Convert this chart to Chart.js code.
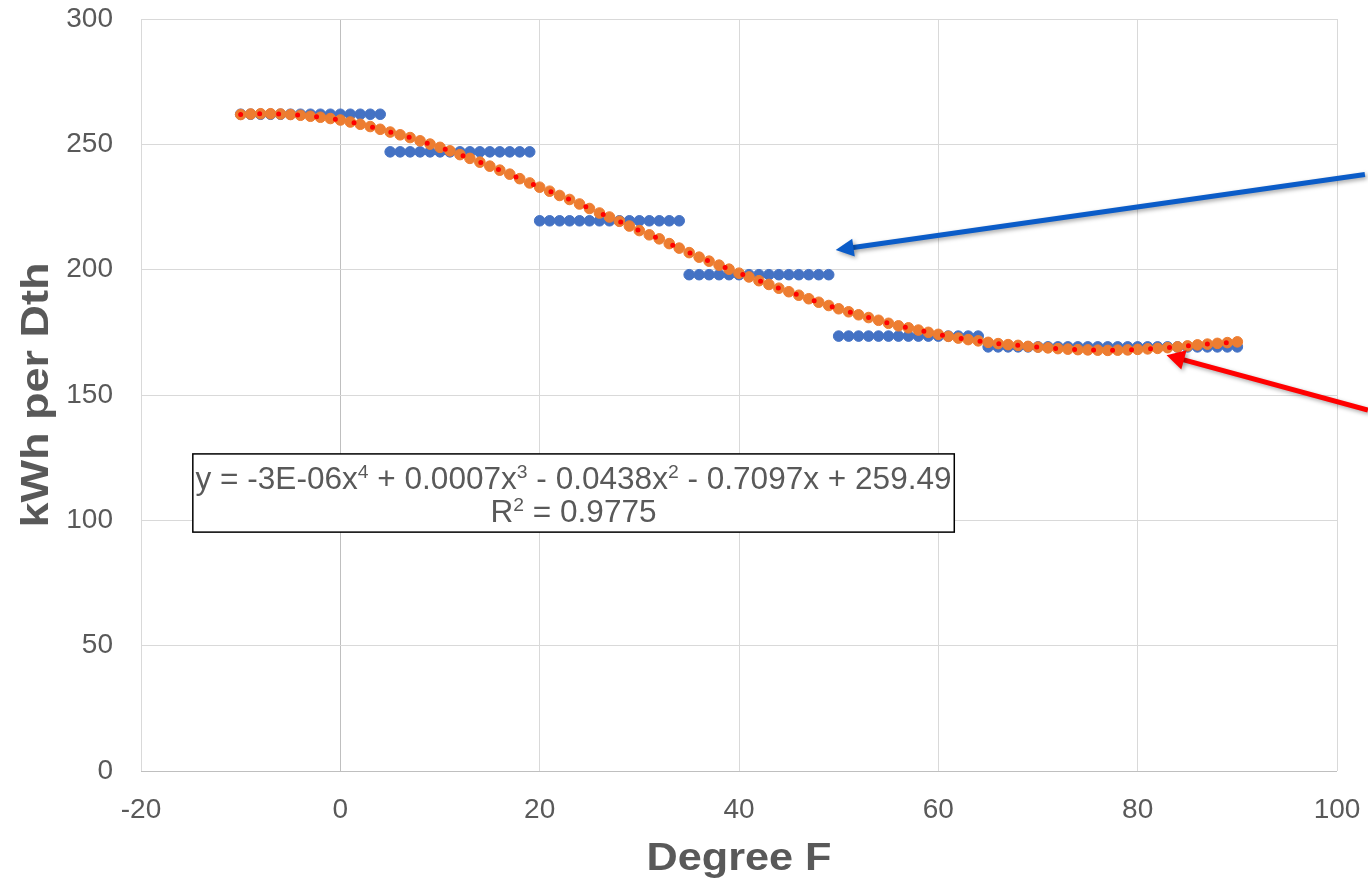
<!DOCTYPE html>
<html>
<head>
<meta charset="utf-8">
<script src="https://cdn.jsdelivr.net/npm/chart.js@4.4.1/dist/chart.umd.min.js"></script>
<style>
  html, body { margin: 0; padding: 0; background: #fff; }
  #wrap { width: 1368px; height: 884px; }
</style>
</head>
<body>
<div id="wrap"><canvas id="chart" width="1368" height="884"></canvas></div>
<script>
// temperatures (Degree F)
const temps = [-10, -9, -8, -7, -6, -5, -4, -3, -2, -1, 0, 1, 2, 3, 4, 5, 6, 7, 8, 9,
  10, 11, 12, 13, 14, 15, 16, 17, 18, 19, 20, 21, 22, 23, 24, 25, 26, 27, 28, 29,
  30, 31, 32, 33, 34, 35, 36, 37, 38, 39, 40, 41, 42, 43, 44, 45, 46, 47, 48, 49,
  50, 51, 52, 53, 54, 55, 56, 57, 58, 59, 60, 61, 62, 63, 64, 65, 66, 67, 68, 69,
  70, 71, 72, 73, 74, 75, 76, 77, 78, 79, 80, 81, 82, 83, 84, 85, 86, 87, 88, 89, 90];

// measured kWh per Dth (step table)
const stepValues = [262, 262, 262, 262, 262, 262, 262, 262, 262, 262, 262, 262, 262, 262, 262,
  247, 247, 247, 247, 247, 247, 247, 247, 247, 247, 247, 247, 247, 247, 247,
  219.5, 219.5, 219.5, 219.5, 219.5, 219.5, 219.5, 219.5, 219.5, 219.5, 219.5, 219.5, 219.5, 219.5, 219.5,
  198, 198, 198, 198, 198, 198, 198, 198, 198, 198, 198, 198, 198, 198, 198,
  173.5, 173.5, 173.5, 173.5, 173.5, 173.5, 173.5, 173.5, 173.5, 173.5, 173.5, 173.5, 173.5, 173.5, 173.5,
  169.2, 169.2, 169.2, 169.2, 169.2, 169.2, 169.2, 169.2, 169.2, 169.2, 169.2, 169.2, 169.2,
  169.2, 169.2, 169.2, 169.2, 169.2, 169.2, 169.2, 169.2, 169.2, 169.2, 169.2, 169.2, 169.2];

// fitted values
const fitValues = [261.9, 262.1, 262.2, 262.2, 262.1, 261.9, 261.6, 261.2, 260.8, 260.3,
  259.7, 258.9, 258.0, 257.1, 256.0, 254.9, 253.8, 252.7, 251.4, 250.1,
  248.8, 247.4, 245.9, 244.4, 242.9, 241.3, 239.7, 238.1, 236.3, 234.6,
  232.9, 231.3, 229.6, 228.0, 226.2, 224.4, 222.6, 221.0, 219.3, 217.4,
  215.6, 213.9, 212.3, 210.4, 208.6, 206.8, 205.0, 203.4, 201.8, 200.2,
  198.6, 197.1, 195.6, 194.1, 192.6, 191.2, 189.8, 188.4, 187.0, 185.7,
  184.4, 183.2, 182.0, 180.9, 179.8, 178.6, 177.6, 176.8, 175.9, 175.0,
  174.2, 173.4, 172.7, 172.1, 171.6, 171.0, 170.5, 170.1, 169.8, 169.4,
  169.1, 168.8, 168.5, 168.3, 168.1, 168.0, 167.9, 167.8, 167.9, 168.0,
  168.2, 168.4, 168.6, 168.9, 169.2, 169.6, 170.0, 170.3, 170.6, 170.9, 171.2];

const xTicks = [-20, 0, 20, 40, 60, 80, 100];
const yTicks = [0, 50, 100, 150, 200, 250, 300];

const equationText = [['y = -3E-06x', false], ['4', true], [' + 0.0007x', false], ['3', true],
  [' - 0.0438x', false], ['2', true], [' - 0.7097x + 259.49', false]];
const rSquaredText = [['R', false], ['2', true], [' = 0.9775', false]];

// annotation arrows, in data units: [fromX, fromY, toX, toY]
const blueArrow = [102.8, 238.0, 49.7, 207.8];
const redArrow = [103.1, 144.0, 82.9, 165.9];

const FONT = '"Liberation Sans", Arial, sans-serif';
const GREY = '#595959';

function pairs(ys) {
  return temps.map((t, i) => ({x: t, y: ys[i]}));
}

function drawRuns(ctx, runs, cx, baseline, size, sx) {
  const supSize = Math.round(size * 0.6);
  let w = 0;
  runs.forEach(([txt, sup]) => {
    ctx.font = (sup ? supSize : size) + 'px ' + FONT;
    w += ctx.measureText(txt).width;
  });
  ctx.save();
  ctx.translate(cx - (w * sx) / 2, baseline);
  ctx.scale(sx, 1);
  let px = 0;
  ctx.textBaseline = 'alphabetic';
  ctx.textAlign = 'left';
  runs.forEach(([txt, sup]) => {
    ctx.font = (sup ? supSize : size) + 'px ' + FONT;
    ctx.fillText(txt, px, sup ? -size * 0.36 : 0);
    px += ctx.measureText(txt).width;
  });
  ctx.restore();
  return w;
}

function drawArrow(ctx, x, y, a, color, width, headLen, headHalf) {
  const x1 = x.getPixelForValue(a[0]), y1 = y.getPixelForValue(a[1]);
  const x2 = x.getPixelForValue(a[2]), y2 = y.getPixelForValue(a[3]);
  const ang = Math.atan2(y2 - y1, x2 - x1);
  const bx = x2 - headLen * Math.cos(ang), by = y2 - headLen * Math.sin(ang);
  ctx.save();
  ctx.shadowColor = 'rgba(0,0,0,0.35)';
  ctx.shadowBlur = 4;
  ctx.shadowOffsetX = 2;
  ctx.shadowOffsetY = 2;
  ctx.strokeStyle = color;
  ctx.fillStyle = color;
  ctx.lineWidth = width;
  ctx.beginPath();
  ctx.moveTo(x1, y1);
  ctx.lineTo(bx + 2 * Math.cos(ang), by + 2 * Math.sin(ang));
  ctx.stroke();
  ctx.beginPath();
  ctx.moveTo(x2, y2);
  ctx.lineTo(bx + headHalf * Math.sin(ang), by - headHalf * Math.cos(ang));
  ctx.lineTo(bx - headHalf * Math.sin(ang), by + headHalf * Math.cos(ang));
  ctx.closePath();
  ctx.fill();
  ctx.restore();
}

const overlay = {
  id: 'overlay',
  afterDatasetsDraw(chart) {
    const {ctx, scales: {x, y}} = chart;
    // trendline label box
    const l = x.getPixelForValue(-14.8), r = x.getPixelForValue(61.6);
    const t = y.getPixelForValue(126.5), b = y.getPixelForValue(95.3);
    ctx.save();
    ctx.fillStyle = '#fff';
    ctx.fillRect(l, t, r - l, b - t);
    ctx.strokeStyle = '#000';
    ctx.lineWidth = 1.5;
    ctx.strokeRect(l, t, r - l, b - t);
    ctx.fillStyle = GREY;
    ctx.font = '31px ' + FONT;
    // squeeze to the label width, like the reference
    let w = 0;
    equationText.forEach(([txt, sup]) => {
      ctx.font = (sup ? 19 : 31) + 'px ' + FONT;
      w += ctx.measureText(txt).width;
    });
    const sx = 756 / w;
    drawRuns(ctx, equationText, (l + r) / 2, t + 35, 31, sx);
    drawRuns(ctx, rSquaredText, (l + r) / 2, t + 68, 31, sx);
    ctx.restore();

    drawArrow(ctx, x, y, blueArrow, '#0B5CC8', 5, 18, 9);
    drawArrow(ctx, x, y, redArrow, '#FF0000', 5, 18, 10);
  },
  afterDraw(chart) {
    const {ctx, chartArea} = chart;
    ctx.save();
    ctx.fillStyle = GREY;
    ctx.font = 'bold 38px ' + FONT;
    ctx.textBaseline = 'alphabetic';
    ctx.textAlign = 'center';
    // x title
    let w = ctx.measureText('Degree F').width;
    ctx.save();
    ctx.translate((chartArea.left + chartArea.right) / 2, 870);
    ctx.scale(185 / w, 1);
    ctx.fillText('Degree F', 0, 0);
    ctx.restore();
    // y title
    w = ctx.measureText('kWh per Dth').width;
    ctx.save();
    ctx.translate(48, (chartArea.top + chartArea.bottom) / 2);
    ctx.rotate(-Math.PI / 2);
    ctx.scale(265 / w, 1);
    ctx.fillText('kWh per Dth', 0, 0);
    ctx.restore();
    ctx.restore();
  }
};

new Chart(document.getElementById('chart'), {
  type: 'scatter',
  data: {
    datasets: [
      {
        label: 'Trendline',
        data: pairs(fitValues),
        showLine: true,
        borderColor: '#FF0000',
        borderWidth: 5,
        borderDash: [0, 19],
        borderCapStyle: 'round',
        pointRadius: 0,
        order: 1
      },
      {
        label: 'Fitted',
        data: pairs(fitValues),
        backgroundColor: '#ED7D31',
        borderColor: '#ED7D31',
        borderWidth: 1,
        pointRadius: 5.3,
        order: 2
      },
      {
        label: 'Measured',
        data: pairs(stepValues),
        backgroundColor: '#4472C4',
        borderColor: '#4472C4',
        borderWidth: 1,
        pointRadius: 5.3,
        order: 3
      }
    ]
  },
  options: {
    responsive: false,
    animation: false,
    devicePixelRatio: 1,
    layout: { padding: { top: 19, right: 31, left: 0, bottom: 0 } },
    plugins: { legend: { display: false }, tooltip: { enabled: false } },
    scales: {
      x: {
        type: 'linear',
        min: -20,
        max: 100,
        afterBuildTicks: s => { s.ticks = xTicks.map(v => ({value: v})); },
        afterFit: s => { s.height = 113; s.paddingLeft = 0; s.paddingRight = 0; },
        border: { display: false },
        grid: {
          drawTicks: false,
          lineWidth: 1,
          color: c => (c.tick && c.tick.value === 0) ? '#BFBFBF' : '#D9D9D9'
        },
        ticks: {
          padding: 22,
          color: GREY,
          font: { family: FONT, size: 28 },
          maxRotation: 0
        }
      },
      y: {
        type: 'linear',
        min: 0,
        max: 300,
        afterBuildTicks: s => { s.ticks = yTicks.map(v => ({value: v})); },
        afterFit: s => { s.width = 141; s.paddingTop = 0; s.paddingBottom = 0; },
        border: { display: false },
        grid: {
          drawTicks: false,
          lineWidth: 1,
          color: c => (c.tick && c.tick.value === 0) ? '#BFBFBF' : '#D9D9D9'
        },
        ticks: {
          padding: 28,
          color: GREY,
          font: { family: FONT, size: 28 }
        }
      }
    }
  },
  plugins: [overlay]
});
</script>
</body>
</html>
